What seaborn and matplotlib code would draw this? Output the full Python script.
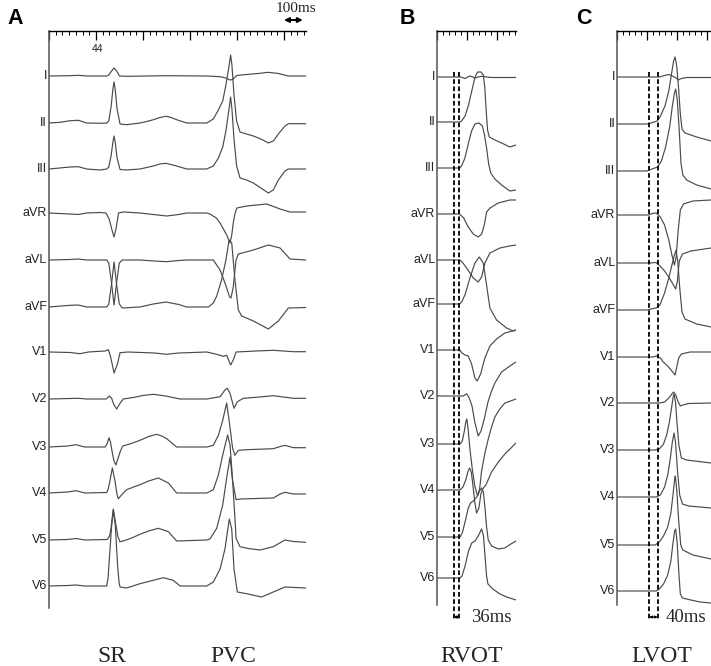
import matplotlib
matplotlib.use("Agg")
import numpy as np
import pandas as pd
import matplotlib.pyplot as plt
import seaborn as sns

sns.set_theme(style="white")
plt.rcParams['font.family'] = ['Liberation Sans', 'DejaVu Sans']

# ---------------- data ----------------
LEADS = ["I", "II", "III", "aVR", "aVL", "aVF", "V1", "V2", "V3", "V4", "V5", "V6"]
PANEL_LETTERS = ["A", "B", "C"]
BOTTOM_LABELS_A = ["SR", "PVC"]
BOTTOM_LABEL_B = "RVOT"
BOTTOM_LABEL_C = "LVOT"
SCALE_TEXT = "100ms"
RULER_MARK = "44"
DASH_B = [122, 158]          # ms, interval 36 ms
DASH_C = [152, 192]          # ms, interval 40 ms
INTERVAL_B = "36ms"
INTERVAL_C = "40ms"

# traces: (time ms, amplitude in display units, positive up)
PANEL_A = {
    "I": [(0,0),(112,0.3),(156,0.7),(200,0),(307,0),(318,1),(333,5),(346,8),(360,5),(375,0),(413,-0.3),(622,0.3),(839,0),(910,-0.7),(941,-2),(963,-4),(977,-3.5),(998,0.5),(1051,1.5),(1122,2.7),(1167,3.7),(1220,2.5),(1273,0),(1367,0)],
    "II": [(0,0),(60,0.7),(112,2.3),(156,2.7),(200,0),(271,-0.3),(307,0),(318,2),(330,16),(340,34),(346,41),(352,34),(362,14),(378,-1),(413,-1.7),(484,0),(520,1.5),(555,3.3),(590,5.5),(622,6.7),(650,5.5),(679,3.3),(732,0),(839,0),(874,4),(901,13),(924,22),(941,38),(956,55),(966,68),(973,58),(984,28),(998,2),(1016,-9),(1051,-11),(1087,-13),(1127,-16),(1167,-20),(1193,-18),(1220,-11),(1255,-3),(1273,-0.7),(1367,-0.7)],
    "III": [(0,0),(112,2),(156,2.3),(200,0),(271,-1),(307,0),(318,2),(330,13),(340,27),(346,33),(352,27),(362,11),(378,-0.5),(413,-1),(484,0),(555,3),(590,5),(622,5.7),(679,3),(732,0),(839,0),(874,3),(901,11),(924,22),(941,38),(956,58),(966,72),(973,60),(984,30),(998,3),(1016,-9),(1051,-11),(1087,-14),(1127,-19),(1167,-24),(1193,-21),(1220,-11),(1255,-2),(1273,0),(1367,0)],
    "aVR": [(0,0),(112,-1),(156,-1.5),(200,0),(271,0.5),(303,0),(320,-6),(335,-17),(346,-24),(356,-16),(370,0),(395,1),(484,0),(555,-1.5),(626,-3),(690,-1.5),(732,0),(839,0),(856,-1),(890,-5),(910,-10),(945,-22),(963,-30),(972,-22),(980,-10),(990,0),(999,5),(1052,7),(1158,9),(1229,4),(1282,1),(1367,1)],
    "aVL": [(0,0),(112,0.5),(156,1),(200,0),(307,0),(318,-3),(332,-22),(346,-45),(360,-22),(374,-3),(390,0),(484,0),(560,-1),(626,-1.7),(690,-0.5),(732,0),(874,0),(910,-10),(936,-23),(961,-37),(968,-38),(980,-27),(995,0),(1007,6),(1087,10),(1167,15),(1229,12),(1282,1),(1367,0)],
    "aVF": [(0,0),(112,1.7),(156,2),(200,0),(307,0),(318,3),(332,22),(346,45),(360,22),(374,3),(390,-1),(484,0),(555,3),(622,5),(690,2.5),(732,0),(848,0),(874,4),(892,11),(918,27),(941,47),(958,67),(972,64),(989,27),(1007,-3),(1025,-9),(1087,-14),(1167,-22),(1220,-14),(1273,-1),(1367,-0.5)],
    "V1": [(0,0),(112,-0.5),(165,-1.7),(210,0),(298,1),(316,2.3),(328,-5),(346,-21),(364,-12),(378,-0.7),(420,0),(560,-1),(626,-2.3),(690,-1),(839,0),(892,-2.3),(927,-4.3),(945,-3.3),(966,-13),(980,-8),(995,0),(1100,1),(1193,1.7),(1300,0.3),(1367,0.3)],
    "V2": [(0,0),(112,0.5),(156,0.7),(200,0),(305,0),(321,3),(333,0.7),(346,-6),(360,-10),(378,-4.3),(395,0),(449,1.5),(500,3.5),(555,4.7),(620,3),(697,0),(839,0),(910,2.3),(936,9),(948,10.7),(963,5.7),(984,-9.3),(1002,-2.7),(1034,0.7),(1120,2),(1193,3.3),(1300,0.7),(1367,0.7)],
    "V3": [(0,0),(100,1),(144,2.3),(190,0),(298,0),(309,3),(319,9.3),(327,5),(336,-5),(346,-14),(356,-18),(366,-12),(378,-5),(392,1),(430,3),(484,6.7),(530,10.5),(573,12.7),(600,11),(626,8.3),(679,0),(839,0),(874,1.7),(901,11.7),(924,26.7),(945,44),(959,25),(977,-1.7),(989,-8.3),(1007,-3.3),(1051,-2.7),(1193,-1.7),(1230,0.5),(1255,1.7),(1300,-0.7),(1367,-0.7)],
    "V4": [(0,0),(100,1),(144,2.3),(190,0),(307,0.5),(315,4),(324,12),(337,25),(351,12),(362,-2),(369,-5.7),(387,-1.7),(413,3.3),(450,6),(484,8.3),(530,12),(582,15),(635,10),(679,0),(839,0),(874,3.3),(901,18),(924,38),(950,58),(963,48),(977,12),(995,-6.7),(1016,-6),(1193,-5),(1230,-1),(1255,0.7),(1300,-1),(1367,-1)],
    "V5": [(0,0),(100,0.5),(144,1.5),(190,0),(310,0.5),(322,4),(330,11.7),(342,31),(356,15),(367,3),(378,-1.7),(395,-1),(440,2),(484,5.7),(530,9),(582,11.7),(635,8.3),(679,-1),(839,0),(856,1),(892,11.7),(924,35),(945,62),(963,83),(977,58),(988,25),(995,1.7),(1016,-6.7),(1060,-8.5),(1122,-10),(1193,-6.7),(1255,0),(1300,-1.5),(1367,-2.3)],
    "V6": [(0,0),(100,0.5),(144,1),(190,0),(307,0),(314,8),(321,27),(333,60),(342,76),(353,60),(365,20),(373,3),(378,-1),(413,-2),(484,2.3),(540,5),(608,8.3),(661,5.7),(697,0),(839,0),(874,4),(910,17),(936,37),(959,67),(972,57),(984,17),(1002,-6),(1051,-7.7),(1131,-11),(1193,-6),(1255,-1),(1367,-2)],
}

PANEL_B = {
    "I": [(0,0),(170,0),(199,-1.5),(220,0),(235,1),(255,0),(271,-1),(295,0),(319,0.7),(340,0.5),(355,0),(391,-0.5),(567,-0.5)],
    "II": [(0,0),(160,0),(175,1),(200,6),(225,17),(250,32),(270,44),(290,50),(315,50),(332,47),(342,35),(352,12),(362,-8),(375,-15),(415,-18),(463,-21),(523,-25),(567,-23)],
    "III": [(0,0),(160,0),(175,2),(199,10),(223,24),(247,37),(271,44),(300,45),(325,42),(340,33),(355,20),(370,4),(385,-5),(415,-11),(463,-17),(523,-23),(567,-22)],
    "aVR": [(0,0),(160,0),(190,-4),(223,-13),(259,-20),(295,-23),(320,-20),(340,-10),(355,2),(380,6),(439,11),(523,14),(567,14)],
    "aVL": [(0,0),(163,0),(185,-3),(211,-8),(235,-13),(259,-18),(295,-22),(319,-17),(343,-3),(379,7),(451,12),(520,14),(567,15)],
    "aVF": [(0,0),(160,0),(175,2),(199,9),(235,26),(271,41),(302,47),(331,41),(355,19),(379,-4),(427,-16),(499,-24),(547,-27),(567,-26)],
    "V1": [(0,0),(163,0),(175,-2.7),(199,-5),(223,-6),(247,-14),(271,-28),(288,-31),(312,-24),(343,-8),(379,4),(427,11),(487,17),(567,20)],
    "V2": [(0,0),(163,0),(187,0),(211,2.3),(230,-2),(250,-10),(270,-26),(295,-40),(315,-35),(340,-22),(365,-6),(391,5),(415,13),(463,24),(523,30),(567,34)],
    "V3": [(0,0),(163,0),(180,3),(195,13),(205,22),(213,25),(222,15),(235,-5),(252,-25),(270,-42),(290,-52),(305,-45),(319,-27),(343,-9),(367,5),(391,17),(415,27),(450,35),(487,41),(567,45)],
    "V4": [(0,0),(163,0),(185,3),(205,10),(220,18),(232,22),(245,18),(258,3),(270,-12),(283,-23),(300,-18),(314,-4),(331,2),(350,5),(391,18),(440,28),(487,36),(567,47)],
    "V5": [(0,0),(163,0),(180,4),(200,15),(223,29),(240,34),(259,36),(285,40),(305,46),(319,49),(332,45),(343,30),(355,10),(367,-3),(391,-9),(440,-12),(487,-11),(530,-7),(567,-4)],
    "V6": [(0,0),(165,0),(178,2),(200,12),(225,27),(248,35),(271,37),(295,42),(319,49),(333,42),(345,20),(355,2),(365,-6),(400,-11),(451,-16),(500,-19),(567,-22)],
}

PANEL_C = {
    "I": [(0,0),(200,0),(225,1.5),(245,2.5),(262,1),(280,-1),(290,-3),(305,-1.5),(330,-0.5),(446,-0.5)],
    "II": [(0,0),(140,0),(160,1),(175,2),(190,3),(203,7),(227,18),(245,33),(258,50),(268,63),(275,67),(283,58),(292,35),(300,10),(308,-5),(322,-9),(378,-13),(446,-17)],
    "III": [(0,0),(140,0),(165,2),(192,4),(210,10),(230,24),(250,45),(262,65),(272,78),(278,82),(286,70),(295,40),(303,8),(312,-4),(330,-9),(378,-14),(446,-18)],
    "aVR": [(0,0),(150,0),(165,1.5),(185,2),(205,-2),(225,-10),(245,-25),(260,-40),(272,-50),(280,-42),(290,-15),(300,5),(315,11),(360,14),(446,15)],
    "aVL": [(0,0),(150,0),(185,0.5),(203,-3),(225,-8),(245,-14),(262,-20),(278,-26),(286,-18),(295,2),(310,9),(350,12),(446,15)],
    "aVF": [(0,0),(140,0),(160,1),(185,2),(203,5),(225,17),(245,32),(260,45),(272,55),(280,60),(288,48),(298,20),(308,-2),(322,-9),(378,-14),(446,-17)],
    "V1": [(0,0),(170,0),(187,1),(205,-1),(219,-5),(240,-9),(260,-14),(275,-18),(283,-10),(292,-1),(305,3),(346,5),(446,5)],
    "V2": [(0,0),(200,0),(225,1),(245,5),(260,9),(268,11),(278,8),(290,1),(300,-3),(312,-2),(340,-0.5),(446,0)],
    "V3": [(0,0),(180,0),(200,1),(220,6),(235,15),(248,28),(258,42),(266,53),(270,56),(277,48),(285,25),(293,5),(305,-8),(330,-10),(446,-13)],
    "V4": [(0,0),(185,0),(205,2),(225,10),(240,22),(252,38),(262,55),(270,64),(277,55),(287,25),(297,2),(310,-7),(340,-9),(446,-11)],
    "V5": [(0,0),(180,0),(200,3),(220,9),(240,18),(255,32),(265,50),(273,66),(276,69),(283,55),(292,25),(302,0),(312,-5),(360,-10),(446,-14)],
    "V6": [(0,0),(185,0),(200,2),(220,7),(240,16),(255,30),(265,48),(273,60),(278,62),(285,48),(293,18),(300,-3),(310,-7),(350,-9),(394,-11),(446,-12)],
}

# ---------------- layout (pixels) ----------------
W, H = 711, 666
BASE_A = [76, 123, 169, 213, 260, 307, 352, 399, 447, 493, 540, 586]
BASE_B = [77, 122, 168, 214, 260, 304, 350, 396, 444, 490, 537, 578]
BASE_C = [77, 124, 171, 215, 263, 310, 357, 403, 450, 497, 545, 591]
TRACE_COLOR = "#4a4a4a"

fig = plt.figure(figsize=(W / 100, H / 100), dpi=100)


def add_ax(left, right, top, bottom):
    return fig.add_axes([left / W, 1 - bottom / H, (right - left) / W, (bottom - top) / H])


def fpx(x, y):
    return x / W, 1 - y / H


def draw_panel(ax, traces, bases, tmax, top, bottom, minor_step, major_every):
    rows = []
    for lead, base in zip(LEADS, bases):
        for i, (t, a) in enumerate(traces[lead]):
            rows.append({"lead": lead, "i": i, "t": t, "y": a - base})
    df = pd.DataFrame(rows)
    sns.lineplot(data=df, x="t", y="y", units="lead", estimator=None, sort=False,
                 color=TRACE_COLOR, linewidth=0.85, ax=ax, legend=False)
    ax.set_xlim(0, tmax)
    ax.set_ylim(-bottom, -top)
    ax.set_xlabel("")
    ax.set_ylabel("")
    ax.set_yticks([])
    minor = np.arange(0, tmax + 1e-6, minor_step)
    major = minor[::major_every]
    ax.xaxis.set_ticks_position("top")
    ax.set_xticks(major)
    ax.set_xticks(minor, minor=True)
    ax.tick_params(axis="x", which="both", direction="in", labeltop=False, labelbottom=False,
                   top=True, bottom=False, colors="black")
    ax.tick_params(axis="x", which="major", length=6.5, width=0.9)
    ax.tick_params(axis="x", which="minor", length=3.2, width=0.7)
    for s in ["right", "bottom"]:
        ax.spines[s].set_visible(False)
    ax.spines["top"].set_color("black")
    ax.spines["top"].set_linewidth(1.0)
    ax.spines["left"].set_color("#555555")
    ax.spines["left"].set_linewidth(1.1)
    ax.set_facecolor("none")
    ax.grid(False)


def lead_labels(left_px, bases):
    for lead, base in zip(LEADS, bases):
        fig.text(*fpx(left_px - 2, base), lead, ha="right", va="center",
                 fontsize=9, color="#222222")


# Panel A
axA = add_ax(49, 306, 31, 608)
draw_panel(axA, PANEL_A, BASE_A, 1367, 31, 608, 250 / 7, 7)
lead_labels(49, BASE_A)
axA.annotate("", xy=(1350, 1.019), xytext=(1250, 1.019), xycoords=axA.get_xaxis_transform(),
             arrowprops=dict(arrowstyle="<|-|>", color="black", lw=1.4, mutation_scale=7,
                             shrinkA=0, shrinkB=0), annotation_clip=False)
fig.text(*fpx(296, 9), SCALE_TEXT, ha="center", va="center", fontsize=11,
         family=["Liberation Serif", "DejaVu Serif"])
fig.text(*fpx(98, 48.5), RULER_MARK, ha="center", va="center", fontsize=7.5, color="#222222")

# Panel B
axB = add_ax(437.3, 516, 31, 605)
draw_panel(axB, PANEL_B, BASE_B, 567, 31, 605, 43.2, 5)
lead_labels(437.3, BASE_B)

# Panel C
axC = add_ax(617.3, 711, 31, 605)
draw_panel(axC, PANEL_C, BASE_C, 446, 31, 605, 28.6, 5)
lead_labels(617.3, BASE_C)

# dashed interval markers
for ax, dashes, bottom in [(axB, DASH_B, 605), (axC, DASH_C, 605)]:
    for d in dashes:
        ax.plot([d, d], [-72, -619], color="black", lw=1.3, ls=(0, (2.6, 1.4)), clip_on=False)
    yfrac = (bottom - 617) / (bottom - 31)
    ax.annotate("", xy=(dashes[1], yfrac), xytext=(dashes[0], yfrac),
                xycoords=ax.get_xaxis_transform(),
                arrowprops=dict(arrowstyle="<|-|>", color="black", lw=0.8, mutation_scale=3.5,
                                shrinkA=0, shrinkB=0), annotation_clip=False)

fig.text(*fpx(491, 617), INTERVAL_B, ha="center", va="center", fontsize=13.5,
         family=["Liberation Serif", "DejaVu Serif"])
fig.text(*fpx(686, 617), INTERVAL_C, ha="center", va="center", fontsize=13.5,
         family=["Liberation Serif", "DejaVu Serif"])

# panel letters
for letter, (x, y) in zip(PANEL_LETTERS, [(15, 18), (407, 18), (584, 18)]):
    fig.text(*fpx(x, y), letter, ha="center", va="center", fontsize=15.5, fontweight="bold",
             color="black")

# bottom labels
serif = ["Liberation Serif", "DejaVu Serif"]
for text, x in zip(BOTTOM_LABELS_A + [BOTTOM_LABEL_B, BOTTOM_LABEL_C], [112, 233, 472, 662]):
    fig.text(*fpx(x, 657), text, ha="center", va="center", fontsize=17, family=serif)

fig.savefig("out.png", dpi=100)
